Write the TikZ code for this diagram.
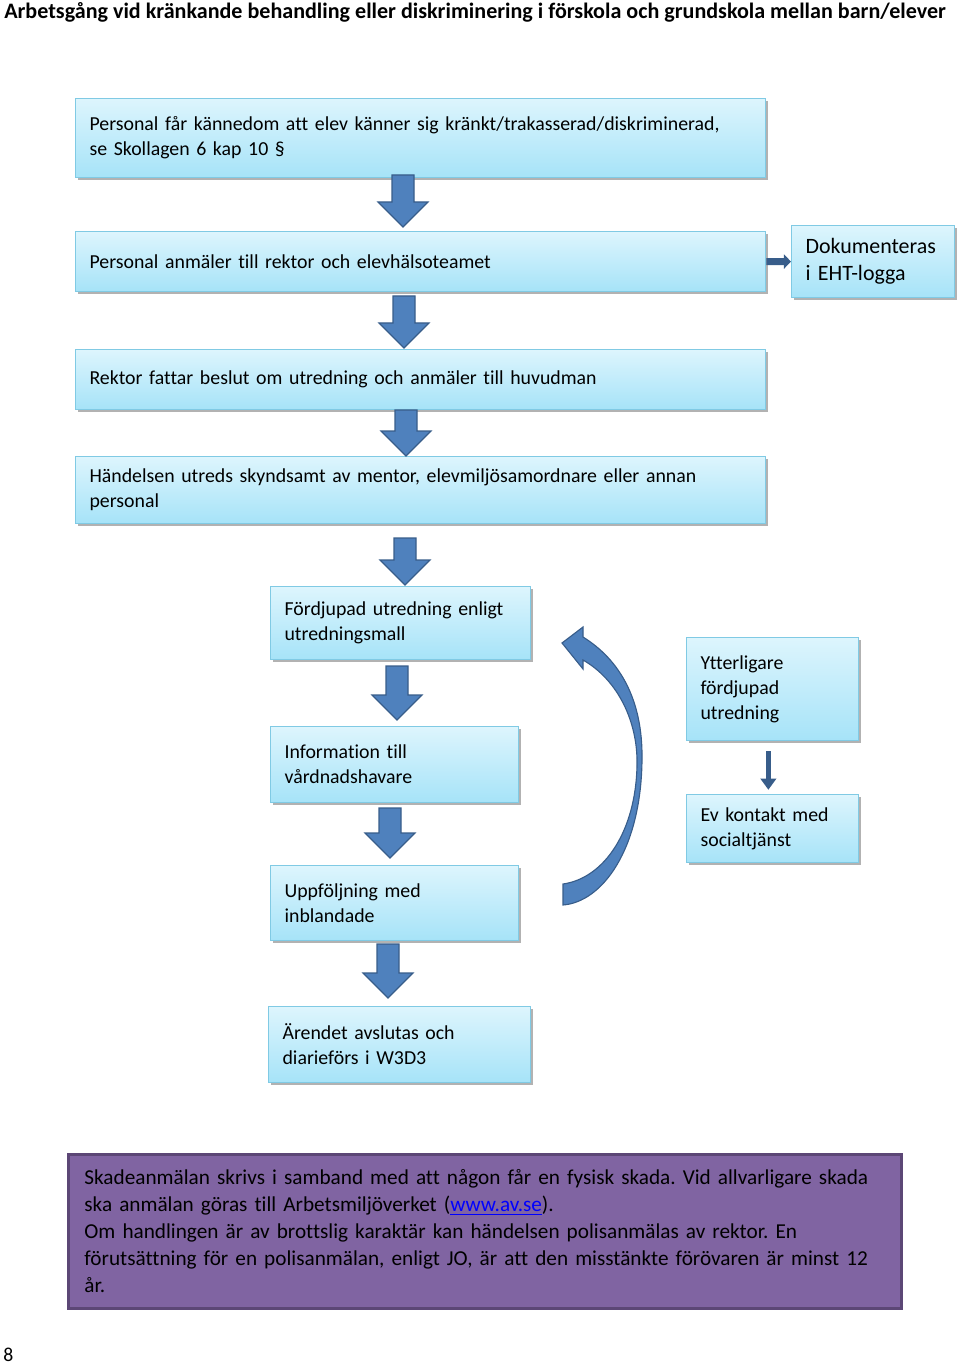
\documentclass[tikz,border=0pt]{standalone}
\usepackage{fontspec}
\setmainfont{Carlito}[Ligatures=NoCommon]
\usetikzlibrary{shadows,arrows.meta}
\definecolor{boxtop}{HTML}{DDF5FD}
\definecolor{boxbot}{HTML}{A6E3F8}
\definecolor{boxline}{HTML}{80CAE4}
\definecolor{arrowfill}{HTML}{4F81BD}
\definecolor{arrowline}{HTML}{385D8A}
\definecolor{notefill}{HTML}{8064A2}
\definecolor{noteline}{HTML}{5C4776}
\definecolor{linkblue}{HTML}{0000FF}
\newcommand{\boxfont}{\fontsize{14.1}{17.8}\selectfont}
\newcommand{\bigboxfont}{\fontsize{15.6}{19.2}\selectfont}
\newcommand{\titlefont}{\fontsize{15.7}{18}\selectfont\bfseries}
\tikzset{
  stepbox/.style={anchor=north west, draw=boxline, line width=0.8pt,
    top color=boxtop, bottom color=boxbot, align=left,
    inner xsep=0.35cm, inner ysep=0pt, font=\boxfont,
    drop shadow={shadow xshift=1.5pt, shadow yshift=-2pt, opacity=0.3, fill=black}},
  blockarrow/.style={fill=arrowfill, draw=arrowline, line width=0.8pt, line join=miter},
}
\frenchspacing
\begin{document}
\begin{tikzpicture}[x=0.025cm, y=-0.025cm]
  \useasboundingbox (0,0) rectangle (960,1365);
  % title
  \node[anchor=west, font=\titlefont, inner sep=0pt] (titel) at (4,12)
    {Arbetsgång vid kränkande behandling eller diskriminering i förskola och grundskola mellan barn/elever};
  % main chain
  \node[stepbox, minimum width=17.25cm, minimum height=1.975cm, text width=16.55cm] (kannedom) at (75,98)
    {Personal får kännedom att elev känner sig kränkt/trakasserad/diskriminerad,\\se Skollagen 6 kap 10 §};
  \node[stepbox, minimum width=17.25cm, minimum height=1.5cm, text width=16.55cm] (anmaler) at (75,231)
    {Personal anmäler till rektor och elevhälsoteamet};
  \node[stepbox, minimum width=4.075cm, minimum height=1.8cm, text width=3.375cm, font=\bigboxfont] (dok) at (791,225)
    {Dokumenteras\\i EHT-logga};
  \node[stepbox, minimum width=17.25cm, minimum height=1.5cm, text width=16.55cm] (beslut) at (75,349)
    {Rektor fattar beslut om utredning och anmäler till huvudman};
  \node[stepbox, minimum width=17.25cm, minimum height=1.675cm, text width=16.55cm] (utreds) at (75,456)
    {Händelsen utreds skyndsamt av mentor, elevmiljösamordnare eller annan\\personal};
  % lower chain
  \node[stepbox, minimum width=6.5cm, minimum height=1.825cm, text width=5.8cm] (fordjupad) at (270,586)
    {Fördjupad utredning enligt\\utredningsmall};
  \node[stepbox, minimum width=6.2cm, minimum height=1.9cm, text width=5.5cm] (info) at (270,726)
    {Information till\\vårdnadshavare};
  \node[stepbox, minimum width=6.2cm, minimum height=1.875cm, text width=5.5cm] (uppfoljning) at (270,865)
    {Uppföljning med\\inblandade};
  \node[stepbox, minimum width=6.55cm, minimum height=1.9cm, text width=5.85cm] (avslutas) at (268,1006)
    {Ärendet avslutas och\\diarieförs i W3D3};
  % side boxes
  \node[stepbox, minimum width=4.3cm, minimum height=2.575cm, text width=3.6cm] (ytterligare) at (686,637)
    {Ytterligare\\fördjupad\\utredning};
  \node[stepbox, minimum width=4.3cm, minimum height=1.7cm, text width=3.6cm] (social) at (686,794)
    {Ev kontakt med\\socialtjänst};
  % block arrows
  \foreach \xa/\ya/\yb in {403/175/227, 404/296/348, 406/410/456, 405/538/585, 397/666/720, 390/808/858, 388/944/998}
    \draw[blockarrow] (\xa-11,\ya) -- (\xa+11,\ya) -- (\xa+11,\yb-25) -- (\xa+25,\yb-25)
      -- (\xa,\yb) -- (\xa-25,\yb-25) -- (\xa-11,\yb-25) -- cycle;
  % small arrows
  \draw[arrowline, line width=5pt, -{Stealth[length=5pt, width=10pt, inset=0pt]}] (anmaler.east) -- (dok.west);
  \draw[arrowline, line width=4pt, shorten <=7pt, shorten >=3pt, -{Stealth[length=8pt, width=11pt, inset=0pt]}]
    ([xshift=-3pt]ytterligare.south) -- ([xshift=-3pt]social.north);
  % curved arrow
  \draw[blockarrow] (563,905) .. controls (602,902) and (641,850) .. (642,760)
    .. controls (643,700) and (620,660) .. (583,637) -- (583,627) -- (562,643) -- (583,669) -- (583,660)
    .. controls (618,680) and (638,722) .. (637,765) .. controls (636,830) and (605,878) .. (563,884) -- cycle;
  % note
  \node[anchor=north west, draw=noteline, line width=2pt, fill=notefill, minimum width=20.825cm,
    minimum height=3.85cm, text width=20.025cm, inner xsep=0.4cm, inner ysep=0pt, align=left,
    font=\fontsize{15.1}{19.2}\selectfont] (skada) at (67,1153)
    {Skadeanmälan skrivs i samband med att någon får en fysisk skada. Vid allvarligare skada\\
     ska anmälan göras till Arbetsmiljöverket (\textcolor{linkblue}{\underline{www.av.se}}).\\
     Om handlingen är av brottslig karaktär kan händelsen polisanmälas av rektor. En\\
     förutsättning för en polisanmälan, enligt JO, är att den misstänkte förövaren är minst 12\\
     år.};
  % page number
  \node[anchor=west, font=\fontsize{14}{16}\selectfont, inner sep=0pt] (sidnr) at (3,1355) {8};
\end{tikzpicture}
\end{document}
